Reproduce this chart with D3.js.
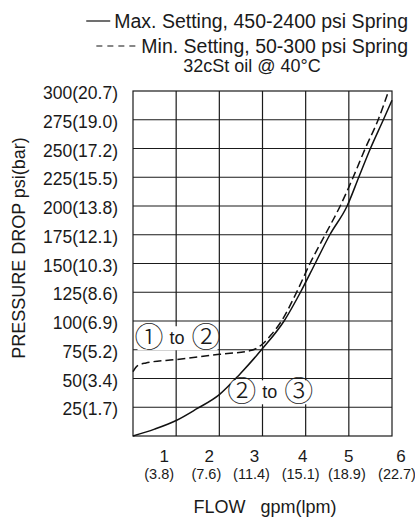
<!DOCTYPE html>
<html lang="en">
<head>
<meta charset="UTF-8">
<title>Pressure Drop vs Flow</title>
<script src="https://d3js.org/d3.v7.min.js"></script>
<style>
    body { margin: 0; background: #fff; }
    svg { display: block; font-family: "Liberation Sans", Arial, sans-serif; }
    text { fill: #1a1a1a; }
    .grid line, .frame { stroke: #1a1a1a; stroke-width: 1.2; fill: none; }
    .curve { fill: none; stroke: #111; stroke-width: 1.5; }
    .dashed { stroke-dasharray: 8,4; }
    .port { font-family: "Noto Sans CJK JP", "DejaVu Sans", sans-serif; font-weight: 300; }
</style>
</head>
<body>
<svg id="chart" width="415" height="520"></svg>
<script>
// curve values: flow in gpm, pressure drop in psi
const maxFlow = [0, 0.5, 1, 1.47, 2, 2.48, 3, 3.5, 3.88, 4.22, 4.56, 4.96, 5.23, 5.5, 5.8, 6];
const maxPsi  = [0, 6, 13.5, 23.5, 36, 54, 76, 100, 125, 150, 175, 200, 225, 250, 275, 292];
const minFlow = [0, 0.1, 0.3, 1, 2, 2.75, 3, 3.2, 3.44, 3.79, 4.1, 4.45, 4.8, 5.1, 5.38, 5.68, 5.92];
const minPsi  = [56, 61, 63.5, 66.5, 71, 74.5, 80, 88, 100, 125, 150, 175, 200, 225, 250, 275, 300];

// axis ticks and labels
const psiTicks = [25, 50, 75, 100, 125, 150, 175, 200, 225, 250, 275, 300];
const barLabels = ["1.7", "3.4", "5.2", "6.9", "8.6", "10.3", "12.1", "13.8", "15.5", "17.2", "19.0", "20.7"];
const gpmTicks = [1, 2, 3, 4, 5, 6];
const lpmLabels = ["3.8", "7.6", "11.4", "15.1", "18.9", "22.7"];

const legendLabels = ["Max. Setting, 450-2400 psi Spring", "Min. Setting, 50-300 psi Spring"];
const subtitle = "32cSt oil @ 40\u00B0C";
// port annotations: [from, to, flow, psi]
const ports = [["\u2460", "\u2461", 1.02, 85], ["\u2461", "\u2462", 3.17, 38]];

// layout
const plot = { left: 133, right: 392, top: 91, bottom: 436 };
const labelNudge = [-12, -10, -8, -3, 0, 9];   // the printed gpm labels sit off their grid lines
const lpmNudge = [-17, -13, -11, -5, -2, 5];

const svg = d3.select("#chart");

const x = d3.scaleLinear().domain([0, 6]).range([plot.left, plot.right]);
const y = d3.scaleLinear().domain([0, 300]).range([plot.bottom, plot.top]);

// grid
const grid = svg.append("g").attr("class", "grid");
grid.selectAll(".v").data(gpmTicks.slice(0, -1)).enter().append("line")
    .attr("x1", d => x(d)).attr("x2", d => x(d))
    .attr("y1", y(0)).attr("y2", y(300));
grid.selectAll(".h").data(psiTicks.slice(0, -1)).enter().append("line")
    .attr("x1", x(0)).attr("x2", x(6))
    .attr("y1", d => y(d)).attr("y2", d => y(d));
svg.append("rect").attr("class", "frame")
    .attr("x", x(0)).attr("y", y(300))
    .attr("width", x(6) - x(0)).attr("height", y(0) - y(300));

// y tick labels
svg.append("g").selectAll("text").data(psiTicks).enter().append("text")
    .attr("x", plot.left - 15)
    .attr("y", d => y(d) + 8)
    .attr("text-anchor", "end")
    .attr("font-size", 17.5)
    .text((d, i) => `${d}(${barLabels[i]})`);

// x tick labels
svg.append("g").selectAll("text").data(gpmTicks).enter().append("text")
    .attr("x", (d, i) => x(d) + labelNudge[i])
    .attr("y", plot.bottom + 26)
    .attr("text-anchor", "middle")
    .attr("font-size", 17)
    .text(d => d);
svg.append("g").selectAll("text").data(lpmLabels).enter().append("text")
    .attr("x", (d, i) => x(gpmTicks[i]) + lpmNudge[i])
    .attr("y", plot.bottom + 43)
    .attr("text-anchor", "middle")
    .attr("font-size", 14.5)
    .text(d => `(${d})`);

// axis titles
svg.append("text")
    .attr("x", 265).attr("y", 513)
    .attr("text-anchor", "middle")
    .attr("font-size", 18)
    .attr("xml:space", "preserve")
    .text("FLOW   gpm(lpm)");
svg.append("text")
    .attr("transform", "translate(25,248) rotate(-90)")
    .attr("text-anchor", "middle")
    .attr("font-size", 18)
    .text("PRESSURE DROP psi(bar)");

// curves
const line = d3.line().x(d => x(d[0])).y(d => y(d[1])).curve(d3.curveMonotoneX);
svg.append("path").attr("class", "curve")
    .attr("d", line(maxFlow.map((f, i) => [f, maxPsi[i]])));
svg.append("path").attr("class", "curve dashed")
    .attr("d", line(minFlow.map((f, i) => [f, minPsi[i]])));

// port annotations with white backing
ports.forEach(p => {
    const g = svg.append("g").attr("transform", `translate(${x(p[2])},${y(p[3])})`);
    const bg = g.append("rect").attr("fill", "#fff");
    g.append("text").attr("class", "port").attr("x", -28).attr("y", 10)
        .attr("text-anchor", "middle").attr("font-size", 29).text(p[0]);
    g.append("text").attr("x", 0).attr("y", 6)
        .attr("text-anchor", "middle").attr("font-size", 18).text("to");
    g.append("text").attr("class", "port").attr("x", 29).attr("y", 10)
        .attr("text-anchor", "middle").attr("font-size", 29).text(p[1]);
    const b = g.node().getBBox();
    bg.attr("x", b.x + 3).attr("y", -12).attr("width", b.width - 6).attr("height", 24);
});

// legend
const legendRight = 408;
legendLabels.forEach((label, i) => {
    const t = svg.append("text")
        .attr("x", legendRight).attr("y", 28 + i * 25)
        .attr("text-anchor", "end")
        .attr("font-size", 19.5)
        .text(label);
    const start = legendRight - t.node().getComputedTextLength();
    svg.append("line")
        .attr("class", "curve")
        .attr("stroke-dasharray", i === 0 ? null : "6,5")
        .attr("x1", start - (i === 0 ? 28 : 45)).attr("x2", start - 4)
        .attr("y1", 21 + i * 25).attr("y2", 21 + i * 25)
        .style("stroke-width", 1.2);
});
svg.append("text")
    .attr("x", 252).attr("y", 72)
    .attr("text-anchor", "middle")
    .attr("font-size", 18)
    .text(subtitle);
</script>
</body>
</html>
